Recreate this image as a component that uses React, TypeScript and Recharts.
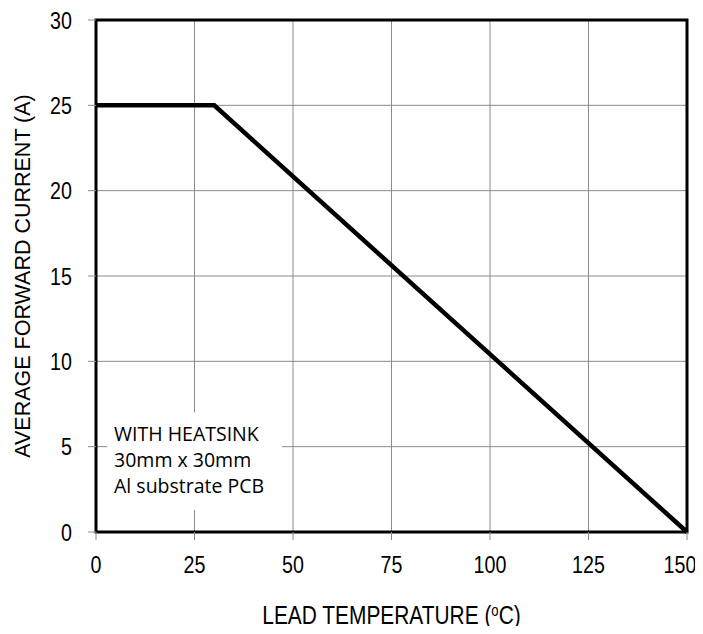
import React from 'react'
import { LineChart, Line, XAxis, YAxis, CartesianGrid, ReferenceArea, Label } from 'recharts'

// lead temperature (°C) vs average forward current (A)
const temperature = [0, 30, 150]
const current = [25, 25, 0]

const xTicks = [0, 25, 50, 75, 100, 125, 150]
const yTicks = [0, 5, 10, 15, 20, 25, 30]

const noteLines = ['WITH HEATSINK', '30mm x 30mm', 'Al substrate PCB']

const data = temperature.map((t, i) => ({ t, i: current[i] }))

const FONT = '"Liberation Sans", Arial, sans-serif'
const GRID = '#8a8a8a'
// the source picture is squeezed sideways, so text is narrowed to match
const SQUEEZE = 0.82

const XTick = (props: any) => {
  const { x, y, payload } = props
  const shift = payload.value === 150 ? -7 : 0
  return (
    <g transform={`translate(${x + shift}, ${y}) scale(${SQUEEZE}, 1)`}>
      <text x={0} y={0} dy={17} textAnchor="middle" fontFamily={FONT} fontSize={24} fill="#000">
        {payload.value}
      </text>
    </g>
  )
}

const YTick = (props: any) => {
  const { x, y, payload } = props
  return (
    <g transform={`translate(${x}, ${y}) scale(${SQUEEZE}, 1)`}>
      <text x={0} y={0} dy={8.5} textAnchor="end" fontFamily={FONT} fontSize={24} fill="#000">
        {payload.value}
      </text>
    </g>
  )
}

const XTitle = (props: any) => {
  const vb = props.viewBox || {}
  const cx = vb.x + vb.width / 2
  return (
    <g transform={`translate(${cx}, 624) scale(${SQUEEZE}, 1)`}>
      <text x={0} y={0} textAnchor="middle" fontFamily={FONT} fontSize={25.5} fill="#000">
        LEAD TEMPERATURE (<tspan fontSize={16} dy={-8}>o</tspan>
        <tspan dy={8}>C)</tspan>
      </text>
    </g>
  )
}

const YTitle = (props: any) => {
  const vb = props.viewBox || {}
  const cy = vb.y + vb.height / 2
  return (
    <text
      x={30}
      y={cy}
      transform={`rotate(-90, 30, ${cy})`}
      textAnchor="middle"
      fontFamily={FONT}
      fontSize={21.5}
      fill="#000"
    >
      AVERAGE FORWARD CURRENT (A)
    </text>
  )
}

const Note = (props: any) => {
  const vb = props.viewBox || {}
  return (
    <g>
      <rect x={vb.x} y={vb.y} width={vb.width} height={vb.height} fill="#fff" />
      {noteLines.map((s, k) => (
        <text
          key={s}
          x={vb.x + 7}
          y={vb.y + 28 + k * 26}
          fontFamily='"Open Sans", "Noto Sans", sans-serif'
          fontSize={19.5}
          fill="#000"
        >
          {s}
        </text>
      ))}
    </g>
  )
}

export default function App() {
  return (
    <div style={{ margin: '-8px', width: 703, height: 634, background: '#fff' }}>
      <LineChart
        width={703}
        height={634}
        data={data}
        style={{ overflow: 'visible' }}
        margin={{ top: 20, right: 16, left: 0, bottom: 0 }}
      >
        <CartesianGrid stroke={GRID} strokeWidth={1} />
        <XAxis
          dataKey="t"
          type="number"
          domain={[0, 150]}
          ticks={xTicks}
          height={102}
          axisLine={false}
          tickLine={{ stroke: GRID }}
          tickSize={8}
          tickMargin={16}
          tick={<XTick />}
          label={<Label content={XTitle} />}
        />
        <YAxis
          type="number"
          domain={[0, 30]}
          ticks={yTicks}
          width={96}
          axisLine={false}
          tickLine={{ stroke: GRID }}
          tickSize={8}
          tickMargin={16}
          tick={<YTick />}
          label={<Label content={YTitle} />}
        />
        <ReferenceArea x1={2.8} x2={47.2} y1={1.3} y2={7} fill="#fff" fillOpacity={1} stroke="none">
          <Label content={Note} />
        </ReferenceArea>
        <ReferenceArea x1={0} x2={150} y1={0} y2={30} fill="none" stroke="#000" strokeWidth={3} />
        <Line
          type="linear"
          dataKey="i"
          stroke="#000"
          strokeWidth={4.5}
          dot={false}
          isAnimationActive={false}
        />
      </LineChart>
    </div>
  )
}
